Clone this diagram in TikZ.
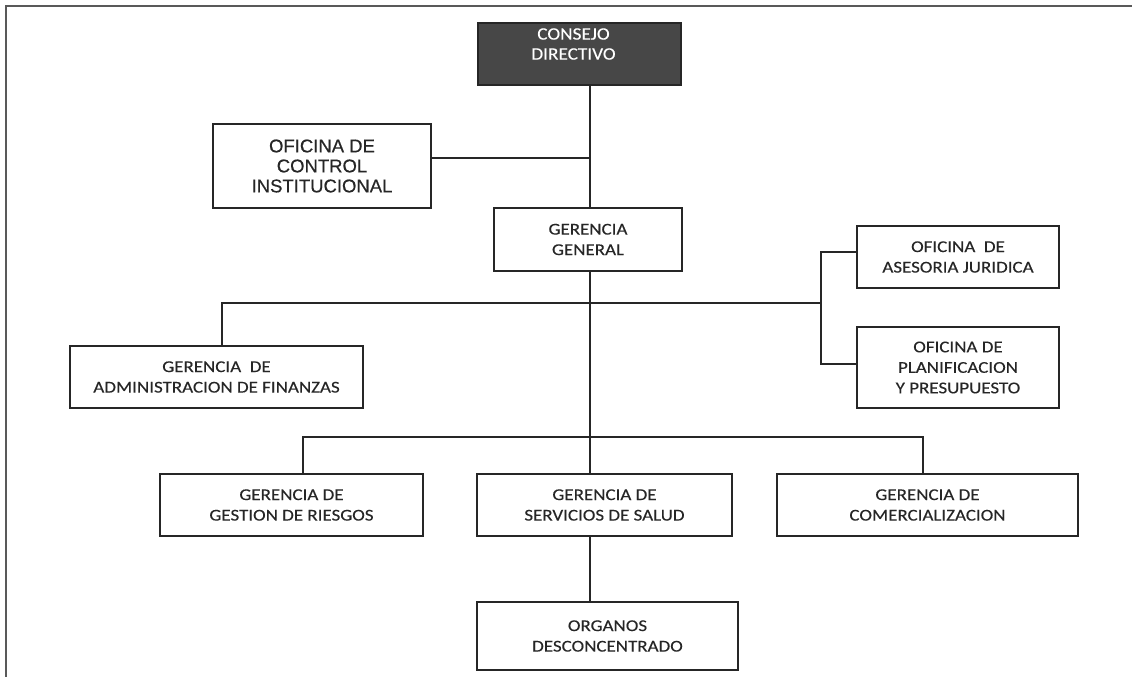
\documentclass[tikz,border=0pt]{standalone}
\usepackage{fontspec}
\setmainfont{Carlito}[FakeStretch=1.15,FakeBold=0.3]
\newfontfamily\headfont{Carlito}[FakeStretch=1.1,FakeBold=0.3]
\newfontfamily\arialfont{Liberation Sans}[FakeBold=0.4]
\tikzset{
  box/.style={draw=black!85, line width=1.2pt, text=black!85, align=center,
    inner sep=0pt, font=\fontsize{16.5}{20.5}\selectfont},
  link/.style={draw=black!85, line width=1.2pt}
}
\begin{document}
\begin{tikzpicture}[x=1pt,y=-1pt]
\useasboundingbox (0,0) rectangle (1132,677);
% frame
\draw[black!65, line width=2pt] (6,677) -- (6,6) -- (1132,6);
% boxes
\node[box,fill=black!72,minimum width=203,minimum height=62] (consejo) at (579.5,54) {};
\node[text=white,align=center,font=\headfont\fontsize{17.5}{20}\selectfont] (consejot) at ([xshift=-6pt,yshift=10pt]consejo.center) {CONSEJO\\DIRECTIVO};
\node[box,font=\arialfont\fontsize{18.5}{20}\selectfont,minimum width=218,minimum height=84] (control) at (322,166) {OFICINA DE\\CONTROL\\INSTITUCIONAL};
\node[box,minimum width=188,minimum height=63] (gerencia) at (588,239.5) {GERENCIA\\GENERAL};
\node[box,minimum width=202,minimum height=62] (asesoria) at (958,257) {OFICINA~~DE\\ASESORIA JURIDICA};
\node[box,minimum width=202,minimum height=81] (planif) at (958,367.5) {OFICINA DE\\PLANIFICACION\\Y PRESUPUESTO};
\node[box,minimum width=293,minimum height=62] (finanzas) at (216.5,377) {GERENCIA~~DE\\ADMINISTRACION DE FINANZAS};
\node[box,minimum width=263,minimum height=62] (riesgos) at (291.5,505) {GERENCIA DE\\GESTION DE RIESGOS};
\node[box,minimum width=255,minimum height=62] (salud) at (604.5,505) {GERENCIA DE\\SERVICIOS DE SALUD};
\node[box,minimum width=301,minimum height=62] (comerc) at (927.5,505) {GERENCIA DE\\COMERCIALIZACION};
\node[box,minimum width=261,minimum height=68] (organos) at (607.5,636) {ORGANOS\\DESCONCENTRADO};
% junctions
\coordinate (jcontrol) at (590,158);
\coordinate (jtop) at (590,303);
\coordinate (jleft) at (222,303);
\coordinate (jright) at (821,303);
\coordinate (jases) at (821,252);
\coordinate (jplan) at (821,364);
\coordinate (jbot) at (590,437);
\coordinate (jriesgos) at (303,437);
\coordinate (jcomerc) at (923,437);
% links
\draw[link] (consejo.south -| jtop) -- (gerencia.north -| jtop);
\draw[link] (control.east |- jcontrol) -- (jcontrol);
\draw[link] (gerencia.south -| jtop) -- (salud.north -| jtop);
\draw[link] (finanzas.north -| jleft) -- (jleft) -- (jright);
\draw[link] (asesoria.west |- jases) -- (jases) -- (jplan) -- (planif.west |- jplan);
\draw[link] (riesgos.north -| jriesgos) -- (jriesgos) -- (jcomerc) -- (comerc.north -| jcomerc);
\draw[link] (salud.south -| jtop) -- (organos.north -| jtop);
\end{tikzpicture}
\end{document}
